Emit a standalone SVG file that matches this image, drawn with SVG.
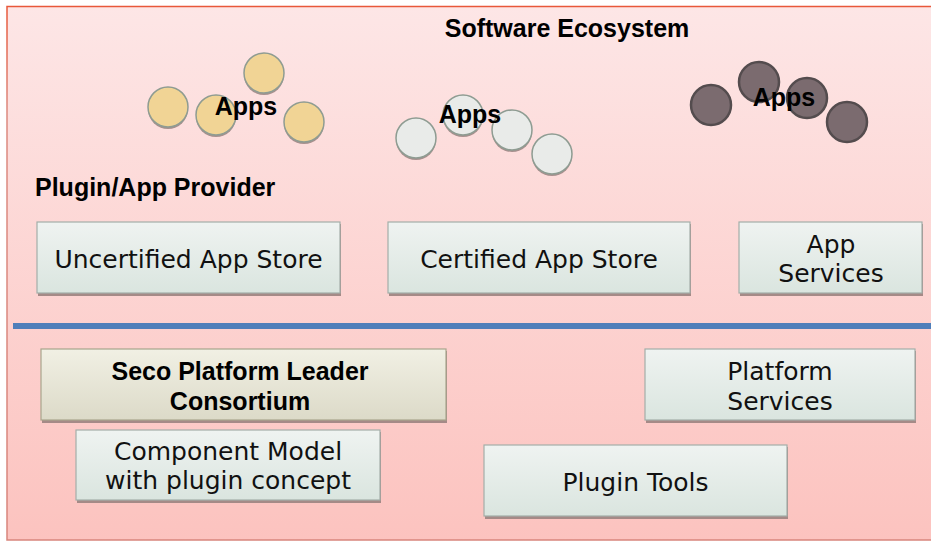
<svg xmlns="http://www.w3.org/2000/svg" width="931" height="541" viewBox="0 0 931 541">
<defs>
<linearGradient id="bg" x1="0" y1="0" x2="0" y2="1">
<stop offset="0" stop-color="#fde6e6"/>
<stop offset="1" stop-color="#fcc3bf"/>
</linearGradient>
<linearGradient id="bd" x1="0" y1="0" x2="0" y2="1">
<stop offset="0" stop-color="#e8583a"/>
<stop offset="0.2" stop-color="#dc8a80"/>
<stop offset="1" stop-color="#d8857c"/>
</linearGradient>
<linearGradient id="boxg" x1="0" y1="0" x2="0" y2="1">
<stop offset="0" stop-color="#eff3f1"/>
<stop offset="1" stop-color="#dae5df"/>
</linearGradient>
<linearGradient id="begeg" x1="0" y1="0" x2="0" y2="1">
<stop offset="0" stop-color="#f1f0e4"/>
<stop offset="1" stop-color="#dcdac8"/>
</linearGradient>
<style>
.box{fill:url(#boxg);stroke:#a3aea9;stroke-width:1.2}
.beige{fill:url(#begeg);stroke:#a8a58c;stroke-width:1.2}
.shadow{fill:#a58a87}
.t{font-family:"DejaVu Sans",Verdana,sans-serif;font-size:25px;fill:#111;text-anchor:middle}
.b{font-family:"Liberation Sans",Arial,sans-serif;font-weight:bold;font-size:25px;fill:#000}
.c{text-anchor:middle}
.y{fill:#f1d495;stroke:#8f9c92;stroke-width:1.5}
.g{fill:#e9ebe9;stroke:#8e9c92;stroke-width:1.5}
.d{fill:#7b6b6f;stroke:#544c4e;stroke-width:2.5}
.cs{fill:#a8908e}
</style>
</defs>
<rect x="7" y="6.5" width="930" height="533.5" fill="url(#bg)" stroke="url(#bd)" stroke-width="1.5"/>
<g id="title"><text class="b c" x="567" y="37">Software Ecosystem</text></g>
<g id="provider"><text class="b" x="35" y="196">Plugin/App Provider</text></g>

<g id="apps-uncertified">
<circle class="cs" cx="168" cy="109" r="20"/><circle class="y" cx="168" cy="107" r="20"/>
<circle class="cs" cx="264" cy="75" r="20"/><circle class="y" cx="264" cy="73" r="20"/>
<circle class="cs" cx="216" cy="117" r="20"/><circle class="y" cx="216" cy="115" r="20"/>
<circle class="cs" cx="304" cy="124" r="20"/><circle class="y" cx="304" cy="122" r="20"/>
<text class="b c" x="246" y="115">Apps</text>
</g>
<g id="apps-certified">
<circle class="cs" cx="416" cy="140" r="20"/><circle class="g" cx="416" cy="138" r="20"/>
<circle class="cs" cx="463" cy="117" r="20"/><circle class="g" cx="463" cy="115" r="20"/>
<circle class="cs" cx="512" cy="132" r="20"/><circle class="g" cx="512" cy="130" r="20"/>
<circle class="cs" cx="552" cy="156" r="20"/><circle class="g" cx="552" cy="154" r="20"/>
<text class="b c" x="470" y="123">Apps</text>
</g>
<g id="apps-services">
<circle class="d" cx="711" cy="105" r="20"/>
<circle class="d" cx="759" cy="82" r="20"/>
<circle class="d" cx="807" cy="98" r="20"/>
<circle class="d" cx="847" cy="122" r="20"/>
<text class="b c" x="784" y="106">Apps</text>
</g>

<g id="uncertified-store">
<rect class="shadow" x="38" y="224" width="303" height="72"/>
<rect class="box" x="37" y="222" width="303" height="71"/>
<text class="t" x="188.5" y="268">Uncertified App Store</text>
</g>
<g id="certified-store">
<rect class="shadow" x="389" y="224" width="302" height="72"/>
<rect class="box" x="388" y="222" width="302" height="71"/>
<text class="t" x="539" y="268">Certified App Store</text>
</g>
<g id="app-services">
<rect class="shadow" x="740" y="224" width="183" height="72"/>
<rect class="box" x="739" y="222" width="183" height="71"/>
<text class="t" x="831" y="253">App</text>
<text class="t" x="831" y="282">Services</text>
</g>

<g id="connectors">
<line x1="13" y1="326" x2="931" y2="326" stroke="#4f7fba" stroke-width="6"/>
</g>

<g id="seco-consortium">
<rect class="shadow" x="42" y="351" width="405" height="72"/>
<rect class="beige" x="41" y="349" width="405" height="71"/>
<text class="b c" x="240" y="380">Seco Platform Leader</text>
<text class="b c" x="240" y="410">Consortium</text>
</g>
<g id="platform-services">
<rect class="shadow" x="646" y="351" width="270" height="72"/>
<rect class="box" x="645" y="349" width="270" height="71"/>
<text class="t" x="780" y="380">Platform</text>
<text class="t" x="780" y="410">Services</text>
</g>
<g id="component-model">
<rect class="shadow" x="77" y="432" width="304" height="71"/>
<rect class="box" x="76" y="430" width="304" height="70"/>
<text class="t" x="228" y="460">Component Model</text>
<text class="t" x="228" y="489">with plugin concept</text>
</g>
<g id="plugin-tools">
<rect class="shadow" x="485" y="447" width="303" height="72"/>
<rect class="box" x="484" y="445" width="303" height="71"/>
<text class="t" x="635.5" y="491">Plugin Tools</text>
</g>
</svg>
